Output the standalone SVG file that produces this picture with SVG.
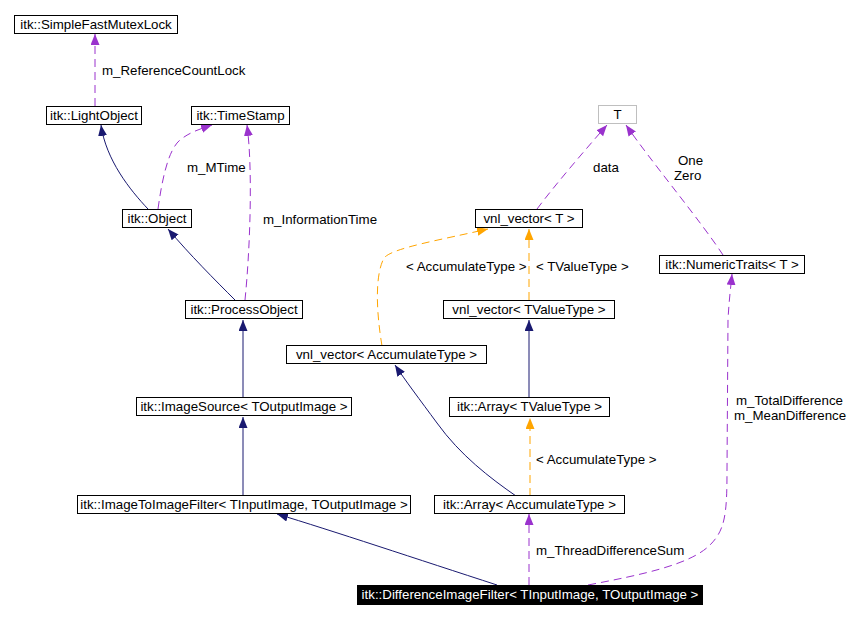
<svg xmlns="http://www.w3.org/2000/svg" width="864" height="619" viewBox="0 0 864 619">
<style>
.bg{fill:#fff}
.box{fill:#fff;stroke:#000;stroke-width:1}
.tbox{fill:#fff;stroke:#bfbfbf;stroke-width:1}
.dark{fill:#000;stroke:#000}
text{font-family:"Liberation Sans",Arial,sans-serif;font-size:13.3px;fill:#000}
.nt{text-anchor:middle}
.wt{fill:#fff}
.inh{fill:none;stroke:#191970;stroke-width:1}
.use{fill:none;stroke:#9a32cd;stroke-width:1;stroke-dasharray:8,5}
.tpl{fill:none;stroke:#ffa500;stroke-width:1;stroke-dasharray:8,5}
</style>
<defs>
<marker id="aN" markerUnits="userSpaceOnUse" markerWidth="12" markerHeight="10" refX="11" refY="4.5" orient="auto"><path d="M0,0 L11,4.5 L0,9 z" fill="#191970"/></marker>
<marker id="aP" markerUnits="userSpaceOnUse" markerWidth="12" markerHeight="10" refX="11" refY="4.5" orient="auto"><path d="M0,0 L11,4.5 L0,9 z" fill="#9a32cd"/></marker>
<marker id="aO" markerUnits="userSpaceOnUse" markerWidth="12" markerHeight="10" refX="11" refY="4.5" orient="auto"><path d="M0,0 L11,4.5 L0,9 z" fill="#ffa500"/></marker>
</defs>
<rect class="bg" x="0" y="0" width="864" height="619"/>
<g id="edges">
<path class="use" marker-end="url(#aP)" d="M95,106 L95,34"/>
<text x="102" y="75">m_ReferenceCountLock</text>
<path class="inh" marker-end="url(#aN)" d="M148,209 C130,190 106,160 101,125"/>
<path class="use" marker-end="url(#aP)" d="M158,209 C162,180 168,150 180,140 C190,132 200,129 212,125"/>
<text x="187" y="172">m_MTime</text>
<path class="inh" marker-end="url(#aN)" d="M235,300 C215,280 190,255 168,229"/>
<path class="use" marker-end="url(#aP)" d="M245,300 C250,250 253,170 247,125"/>
<text x="263" y="224">m_InformationTime</text>
<path class="inh" marker-end="url(#aN)" d="M243,397 L243,320"/>
<path class="inh" marker-end="url(#aN)" d="M243,496 L243,417"/>
<path class="inh" marker-end="url(#aN)" d="M497,585 C420,560 330,530 277,514"/>
<path class="tpl" marker-end="url(#aO)" d="M382,346 C376,310 375,275 384,258 C392,248 440,240 488,229"/>
<text x="406" y="271">&lt; AccumulateType &gt;</text>
<path class="tpl" marker-end="url(#aO)" d="M529,300 L529,229"/>
<text x="536" y="271">&lt; TValueType &gt;</text>
<path class="use" marker-end="url(#aP)" d="M537,209 C555,185 585,150 607,125"/>
<text x="593" y="172">data</text>
<path class="use" marker-end="url(#aP)" d="M723,255 C700,220 650,160 626,125"/>
<text x="678" y="165">One</text>
<text x="674" y="180">Zero</text>
<path class="inh" marker-end="url(#aN)" d="M529,397 L529,320"/>
<path class="inh" marker-end="url(#aN)" d="M516,496 C490,478 460,455 437,423 C420,400 405,380 395,365"/>
<path class="tpl" marker-end="url(#aO)" d="M530,496 L530,418"/>
<text x="536" y="464">&lt; AccumulateType &gt;</text>
<path class="use" marker-end="url(#aP)" d="M529,585 L529,514"/>
<text x="536" y="555">m_ThreadDifferenceSum</text>
<path class="use" marker-end="url(#aP)" d="M588,585 C640,575 690,565 710,545 C725,530 727,515 727,470 L728,320 C729,300 731,285 732,274"/>
<text x="736" y="405">m_TotalDifference</text>
<text x="734" y="420">m_MeanDifference</text>
</g>
<g id="n_mutex"><rect class="box" x="14.5" y="15.5" width="163" height="18"/><text class="nt" x="96" y="29">itk::SimpleFastMutexLock</text></g>
<g id="n_light"><rect class="box" x="46.5" y="106.5" width="95" height="18"/><text class="nt" x="94" y="120">itk::LightObject</text></g>
<g id="n_time"><rect class="box" x="191.5" y="106.5" width="98" height="18"/><text class="nt" x="240.5" y="120">itk::TimeStamp</text></g>
<g id="n_object"><rect class="box" x="122.5" y="209.5" width="69" height="18"/><text class="nt" x="157" y="223">itk::Object</text></g>
<g id="n_process"><rect class="box" x="185.5" y="300.5" width="117" height="18"/><text class="nt" x="244" y="314">itk::ProcessObject</text></g>
<g id="n_source"><rect class="box" x="136.5" y="397.5" width="215" height="18"/><text class="nt" x="244" y="411">itk::ImageSource&lt; TOutputImage &gt;</text></g>
<g id="n_i2i"><rect class="box" x="77.5" y="495.5" width="333" height="18"/><text class="nt" x="244" y="509">itk::ImageToImageFilter&lt; TInputImage, TOutputImage &gt;</text></g>
<g id="n_vnlacc"><rect class="box" x="286.5" y="345.5" width="200" height="18"/><text class="nt" x="386.5" y="359">vnl_vector&lt; AccumulateType &gt;</text></g>
<g id="n_T"><rect class="tbox" x="598.5" y="105.5" width="38" height="18"/><text class="nt" x="617.5" y="119">T</text></g>
<g id="n_vnlT"><rect class="box" x="475.5" y="209.5" width="107" height="18"/><text class="nt" x="529" y="223">vnl_vector&lt; T &gt;</text></g>
<g id="n_numtraits"><rect class="box" x="659.5" y="255.5" width="145" height="18"/><text class="nt" x="732" y="269">itk::NumericTraits&lt; T &gt;</text></g>
<g id="n_vnltv"><rect class="box" x="443.5" y="300.5" width="171" height="18"/><text class="nt" x="529" y="314">vnl_vector&lt; TValueType &gt;</text></g>
<g id="n_arrtv"><rect class="box" x="449.5" y="397.5" width="160" height="19"/><text class="nt" x="529.5" y="411">itk::Array&lt; TValueType &gt;</text></g>
<g id="n_arracc"><rect class="box" x="434.5" y="495.5" width="190" height="18"/><text class="nt" x="529.5" y="509">itk::Array&lt; AccumulateType &gt;</text></g>
<g id="n_diff"><rect class="dark" x="357.5" y="585.5" width="345" height="19"/><text class="nt wt" x="530" y="599">itk::DifferenceImageFilter&lt; TInputImage, TOutputImage &gt;</text></g>
</svg>
